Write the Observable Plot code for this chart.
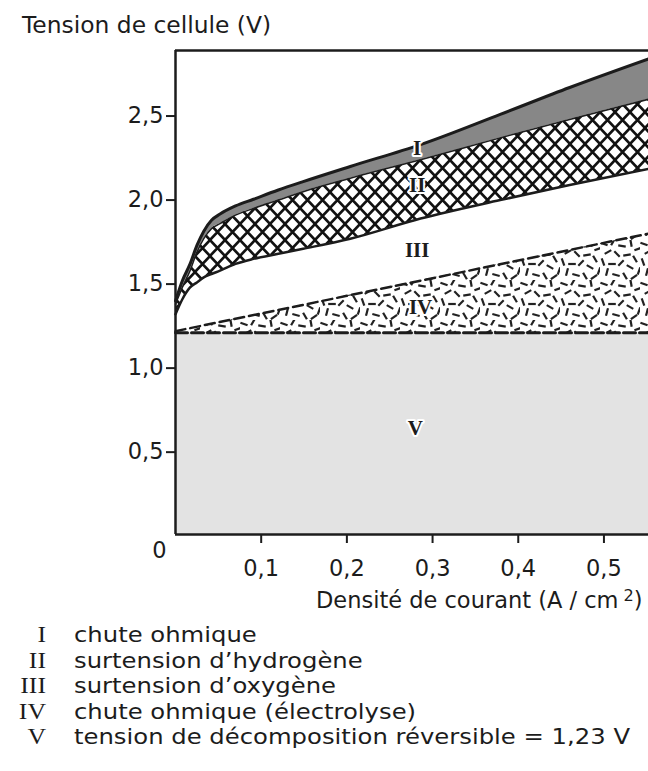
<!DOCTYPE html>
<html><head><meta charset="utf-8">
<script src="https://cdn.jsdelivr.net/npm/d3@7"></script>
<script src="https://cdn.jsdelivr.net/npm/@observablehq/plot@0.6"></script>
<style>
html,body{margin:0;padding:0;background:#fff;}
#wrap{position:relative;width:648px;height:771px;overflow:hidden;font-family:"DejaVu Sans",sans-serif;color:#1c1c1c;}
#wrap svg{position:absolute;left:0;top:0;}
.t{position:absolute;white-space:nowrap;line-height:24px;height:24px;}
.num{font-family:"Liberation Serif",serif;font-size:23px;text-align:right;width:60px;transform:scaleX(1.12);transform-origin:right center;}
.leg{font-size:21.5px;transform:scaleX(1.13);transform-origin:left center;}
</style></head><body><div id="wrap"></div>
<script>
// Current density (A/cm2) sampled along the curves
const currentDensity = [0, 0.008, 0.017, 0.025, 0.033, 0.042, 0.052, 0.07, 0.091, 0.12, 0.149, 0.204, 0.286, 0.379, 0.46, 0.552];
// Top of region I (total cell voltage)
const ohmicTop       = [1.40, 1.52, 1.62, 1.73, 1.815, 1.88, 1.917, 1.965, 2.005, 2.06, 2.11, 2.20, 2.33, 2.51, 2.67, 2.84];
// Top of region II (hydrogen overvoltage upper bound)
const hydrogenTop    = [1.38, 1.48, 1.58, 1.69, 1.77, 1.83, 1.86, 1.91, 1.95, 2.00, 2.05, 2.13, 2.24, 2.37, 2.48, 2.60];
// Bottom of region II
const hydrogenBottom = [1.32, 1.41, 1.48, 1.51, 1.54, 1.56, 1.58, 1.62, 1.65, 1.68, 1.71, 1.77, 1.89, 2.00, 2.09, 2.185];
// Straight boundaries (IV and V)
const linearDensity  = [0, 0.552];
const reversibleV    = [1.21, 1.21];
const electrolyteTop = [1.22, 1.80];

const xTicks = [0.1, 0.2, 0.3, 0.4, 0.5];
const yTicks = [0.5, 1.0, 1.5, 2.0, 2.5];

const regionNames = ["I", "II", "III", "IV", "V"];
const regionLabelX = [0.282, 0.282, 0.282, 0.286, 0.280];
const regionLabelY = [2.31, 2.09, 1.70, 1.36, 0.64];

const legendTexts = [
  "chute ohmique",
  "surtension d\u2019hydrogène",
  "surtension d\u2019oxygène",
  "chute ohmique (électrolyse)",
  "tension de décomposition réversible = 1,23 V"
];

const rows = currentDensity.map((x, i) => ({x, top: ohmicTop[i], h2top: hydrogenTop[i], h2bot: hydrogenBottom[i]}));
const lin = linearDensity.map((x, i) => ({x, rev: reversibleV[i], elec: electrolyteTop[i]}));
const labels = regionNames.map((n, i) => ({n, x: regionLabelX[i], y: regionLabelY[i]}));

const fmt = d => d.toFixed(1).replace(".", ",");
const HATCH = "#010203", CONF = "#030201";
const ink = "#1c1c1c";

const svg = Plot.plot({
  width: 648, height: 771,
  marginTop: 50, marginBottom: 237, marginLeft: 175, marginRight: 0,
  x: {domain: [0, 0.552]},
  y: {domain: [0.01, 2.89]},
  style: {fontFamily: "DejaVu Sans, sans-serif", fontSize: "22.5px", color: ink, background: "white"},
  marks: [
    Plot.areaY(lin, {x: "x", y1: 0, y2: "rev", fill: "#e3e3e3", clip: true}),
    Plot.areaY(lin, {x: "x", y1: "rev", y2: "elec", fill: CONF}),
    Plot.areaY(rows, {x: "x", y1: "h2bot", y2: "h2top", fill: HATCH, curve: "monotone-x"}),
    Plot.areaY(rows, {x: "x", y1: "h2top", y2: "top", fill: "#878787", curve: "monotone-x"}),
    Plot.lineY(rows, {x: "x", y: "h2bot", stroke: ink, strokeWidth: 2.5, curve: "monotone-x"}),
    Plot.lineY(rows, {x: "x", y: "h2top", stroke: ink, strokeWidth: 1.5, curve: "monotone-x"}),
    Plot.lineY(rows, {x: "x", y: "top", stroke: ink, strokeWidth: 3, curve: "monotone-x"}),
    Plot.lineY(lin, {x: "x", y: "elec", stroke: ink, strokeWidth: 2.5, strokeDasharray: "10,5"}),
    Plot.lineY(lin, {x: "x", y: "rev", stroke: ink, strokeWidth: 3, strokeDasharray: "12,4"}),
    Plot.ruleX([0], {stroke: ink, strokeWidth: 2.5}),
    Plot.ruleY([2.89, 0.01], {stroke: ink, strokeWidth: 2.5}),
    Plot.axisY(yTicks, {tickSize: 9, tickPadding: 3, tickFormat: fmt, strokeWidth: 2, stroke: ink, fill: ink, label: null}),
    Plot.axisX(xTicks, {tickSize: 9, tickPadding: 17, tickFormat: fmt, strokeWidth: 2, stroke: ink, fill: ink, label: null}),
    Plot.text(["0"], {frameAnchor: "bottom-left", dx: -16, dy: 16, text: d => d, fill: ink, textAnchor: "middle", lineAnchor: "middle"}),
    Plot.text(labels, {x: "x", y: "y", text: "n", fontFamily: "Liberation Serif, serif", fontWeight: "bold", fontSize: 21, fill: ink, stroke: "white", strokeWidth: 4, lineAnchor: "middle"})
  ]
});

// texture patterns
const s = d3.select(svg);
const defs = s.insert("defs", ":first-child");
const ph = defs.append("pattern").attr("id", "hatch").attr("patternUnits", "userSpaceOnUse").attr("width", 15).attr("height", 16);
ph.append("rect").attr("width", 15).attr("height", 16).attr("fill", "white");
ph.append("path").attr("d", "M-3,-3.2L18,19.2M12,-3.2L18,3.2M-3,12.8L3,19.2M18,-3.2L-3,19.2M-3,3.2L3,-3.2M12,19.2L18,12.8")
  .attr("stroke", "#111").attr("stroke-width", 2.6).attr("fill", "none");
const pc = defs.append("pattern").attr("id", "confetti").attr("patternUnits", "userSpaceOnUse").attr("width", 40).attr("height", 40);
pc.append("rect").attr("width", 40).attr("height", 40).attr("fill", "white");
const dashes = [[4,4,20],[13,2,-60],[22,6,10],[31,3,80],[38,9,-20],[8,12,-30],[17,14,45],[27,15,-10],[35,19,60],
                [3,22,70],[12,24,0],[21,23,-45],[30,27,30],[39,31,-70],[7,32,-75],[16,35,15],[25,36,60],[34,37,-35]];
dashes.forEach(([cx, cy, a]) => {
  const r = a * Math.PI / 180, dx = 3.8 * Math.cos(r), dy = 3.8 * Math.sin(r);
  pc.append("line").attr("x1", cx - dx).attr("y1", cy - dy).attr("x2", cx + dx).attr("y2", cy + dy)
    .attr("stroke", "#222").attr("stroke-width", 2.2).attr("stroke-linecap", "butt");
});
svg.querySelectorAll(`[fill="${HATCH}"]`).forEach(e => e.setAttribute("fill", "url(#hatch)"));
svg.querySelectorAll(`[fill="${CONF}"]`).forEach(e => e.setAttribute("fill", "url(#confetti)"));

const wrap = document.getElementById("wrap");
wrap.appendChild(svg);

function addText(html, style, cls) {
  const d = document.createElement("div");
  d.className = "t " + (cls || "");
  d.innerHTML = html;
  Object.assign(d.style, style);
  wrap.appendChild(d);
  return d;
}
addText("Tension de cellule (V)", {left: "22px", top: "13px", fontSize: "23.4px"});
addText("Densité de courant (A / cm<span style=\"font-size:0.72em;position:relative;top:-0.45em;margin-left:5px\">2</span>)", {left: "316px", top: "588px", fontSize: "22.5px"});
const legendY = [635, 660.5, 686, 711.5, 737];
regionNames.forEach((n, i) => {
  addText(n, {left: "-14px", top: (legendY[i] - 12) + "px"}, "num");
  addText(legendTexts[i], {left: "74px", top: (legendY[i] - 12) + "px"}, "leg");
});
</script></body></html>
